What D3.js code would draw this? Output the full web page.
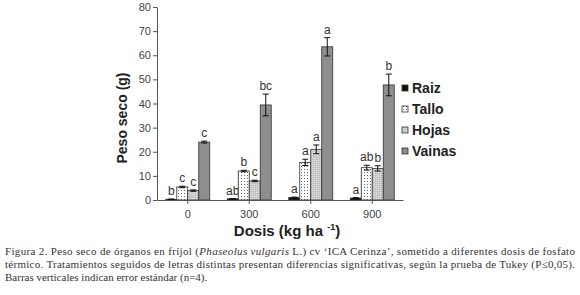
<!DOCTYPE html>
<html><head><meta charset="utf-8">
<script src="https://cdn.jsdelivr.net/npm/d3@7"></script>
<style>body{margin:0;background:#fff}svg{display:block}</style>
</head><body><svg id="c" width="580" height="295"></svg>
<script>
const doses = ["0", "300", "600", "900"];
const series = ["Raiz", "Tallo", "Hojas", "Vainas"];
const raiz = [0.3, 0.5, 1.0, 0.8];
const tallo = [5.4, 12.0, 15.6, 13.4];
const hojas = [3.9, 7.9, 21.0, 13.1];
const vainas = [24.0, 39.4, 63.5, 47.7];
const raizErr = [0.1, 0.1, 0.2, 0.2];
const talloErr = [0.3, 0.3, 1.3, 1.0];
const hojasErr = [0.3, 0.3, 1.8, 1.1];
const vainasErr = [0.4, 4.5, 3.8, 4.5];
const raizLet = ["b", "ab", "a", "a"];
const talloLet = ["c", "b", "a", "ab"];
const hojasLet = ["c", "c", "a", "b"];
const vainasLet = ["c", "bc", "a", "b"];
const yTicks = [0, 10, 20, 30, 40, 50, 60, 70, 80];
const caption = [
  "Figura 2. Peso seco de órganos en fríjol (|Phaseolus vulgaris| L.) cv ‘ICA Cerinza’, sometido a diferentes dosis de fosfato",
  "térmico. Tratamientos seguidos de letras distintas presentan diferencias significativas, según la prueba de Tukey (P≤0,05).",
  "Barras verticales indican error estándar (n=4)."
];

const vals = [raiz, tallo, hojas, vainas];
const errs = [raizErr, talloErr, hojasErr, vainasErr];
const lets = [raizLet, talloLet, hojasLet, vainasLet];

const svg = d3.select("#c");
const defs = svg.append("defs");
const p1 = defs.append("pattern").attr("id","dotsW").attr("width",3).attr("height",3).attr("patternUnits","userSpaceOnUse");
p1.append("rect").attr("width",3).attr("height",3).attr("fill","#fff");
p1.append("rect").attr("x",1).attr("y",1).attr("width",1).attr("height",1).attr("fill","#666");
const p2 = defs.append("pattern").attr("id","dotsG").attr("width",2).attr("height",2).attr("patternUnits","userSpaceOnUse");
p2.append("rect").attr("width",2).attr("height",2).attr("fill","#c4c4c4");
p2.append("rect").attr("x",0).attr("y",0).attr("width",1).attr("height",1).attr("fill","#e2e2e2");
const fills = ["#111", "url(#dotsW)", "url(#dotsG)", "#8e8e8e"];

const x0 = d3.scaleBand().domain(doses).range([157, 403]);
const x1 = d3.scaleBand().domain(series).range([0, 44]);
const y = d3.scaleLinear().domain([0, 80]).range([200, 7]);

// axes
const ya = svg.append("g").attr("transform","translate(157,0)")
  .call(d3.axisLeft(y).tickValues(yTicks).tickSize(4).tickSizeOuter(0));
ya.select(".domain").attr("stroke","#555");
ya.selectAll(".tick line").attr("stroke","#555");
ya.selectAll(".tick text").attr("font-family","Liberation Sans, Arial, sans-serif").attr("font-size",11).attr("fill","#444").attr("x",-6);

const groups = svg.append("g");
doses.forEach((d, i) => {
  const gx = x0(d) + x0.bandwidth()/2 - 22;
  series.forEach((s, k) => {
    const bx = gx + x1(s);
    const v = vals[k][i], e = errs[k][i];
    groups.append("rect").attr("x", bx).attr("y", y(v)).attr("width", x1.bandwidth()).attr("height", y(0)-y(v))
      .attr("fill", fills[k]).attr("stroke", "#333").attr("stroke-width", 0.8);
    const cx = bx + x1.bandwidth()/2;
    groups.append("line").attr("x1",cx).attr("x2",cx).attr("y1",y(v+e)).attr("y2",y(Math.max(0,v-e))).attr("stroke","#111").attr("stroke-width",1);
    groups.append("line").attr("x1",cx-3).attr("x2",cx+3).attr("y1",y(v+e)).attr("y2",y(v+e)).attr("stroke","#111").attr("stroke-width",1);
    groups.append("line").attr("x1",cx-3).attr("x2",cx+3).attr("y1",y(Math.max(0,v-e))).attr("y2",y(Math.max(0,v-e))).attr("stroke","#111").attr("stroke-width",1);
    groups.append("text").attr("x",cx).attr("y",y(v+e)-4).attr("text-anchor","middle")
      .attr("font-family","Liberation Sans, Arial, sans-serif").attr("font-size",12).attr("fill","#333").text(lets[k][i]);
  });
});

const xa = svg.append("g").attr("transform","translate(0,200)")
  .call(d3.axisBottom(x0).tickSize(4).tickSizeOuter(0));
xa.select(".domain").attr("stroke","#555");
xa.selectAll(".tick line").attr("stroke","#555");
xa.selectAll(".tick text").attr("font-family","Liberation Sans, Arial, sans-serif").attr("font-size",11).attr("fill","#444").attr("y",10);

// axis titles
svg.append("text").attr("transform","translate(127,118) rotate(-90)").attr("text-anchor","middle")
  .attr("font-family","Liberation Sans, Arial, sans-serif").attr("font-weight","bold").attr("font-size",14).attr("fill","#222")
  .text("Peso seco (g)");
const xt = svg.append("text").attr("x",287).attr("y",236).attr("text-anchor","middle")
  .attr("font-family","Liberation Sans, Arial, sans-serif").attr("font-weight","bold").attr("font-size",15).attr("fill","#222");
xt.append("tspan").text("Dosis  (kg ha ");
xt.append("tspan").attr("font-size",9).attr("dy",-6).text("-1");
xt.append("tspan").attr("dy",6).text(")");

// legend
const lg = svg.append("g");
series.forEach((s, k) => {
  const ly = 88 + k*21;
  lg.append("rect").attr("x",402).attr("y",ly-3).attr("width",6).attr("height",6).attr("fill",fills[k]).attr("stroke","#333").attr("stroke-width",0.8);
  lg.append("text").attr("x",412).attr("y",ly+5).attr("font-family","Liberation Sans, Arial, sans-serif").attr("font-weight","bold")
    .attr("font-size",14).attr("fill","#222").text(s);
});

// caption
caption.forEach((line, i) => {
  const t = svg.append("text").attr("x",5).attr("y",255 + i*13)
    .attr("font-family","Liberation Serif, serif").attr("font-size",11).attr("fill","#333");
  if (i < 2) t.attr("textLength", 570).attr("lengthAdjust","spacing");
  line.split("|").forEach((part, j) => {
    t.append("tspan").attr("font-style", j % 2 ? "italic" : "normal").text(part);
  });
});
</script></body></html>
